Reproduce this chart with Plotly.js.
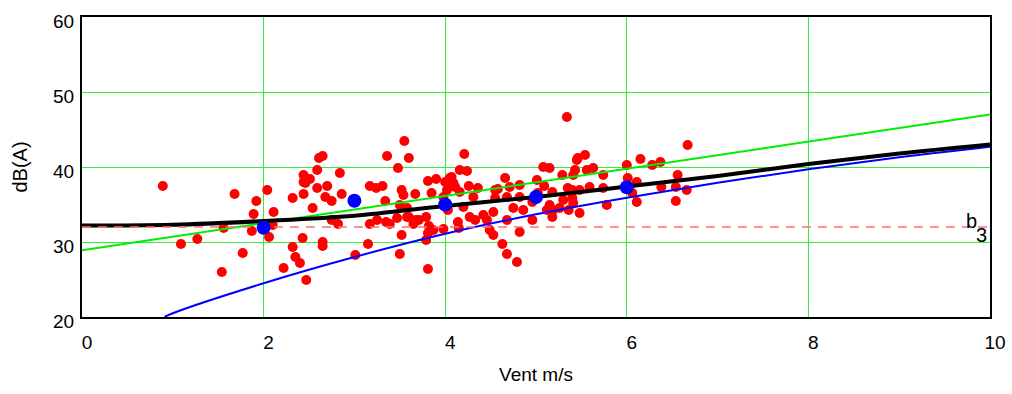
<!DOCTYPE html>
<html>
<head>
<meta charset="utf-8">
<script src="https://cdn.plot.ly/plotly-3.0.1.min.js"></script>
<style>html,body{margin:0;padding:0;background:#fff;}#chart{width:1012px;height:394px;}</style>
</head>
<body>
<div id="chart"></div>
<script>
// Measured points (wind speed m/s, level dB(A))
const measX = [0.89,1.09,1.27,1.54,1.56,1.68,1.77,1.87,1.89,1.92,2.04,2.06,2.10,2.11,2.22,2.32,2.32,2.35,2.40,2.43,
  2.44,2.44,2.44,2.47,2.46,2.51,2.54,2.59,2.59,2.61,2.65,2.65,2.65,2.68,2.70,2.75,2.75,2.82,2.84,2.86,
  3.01,3.15,3.17,3.17,3.24,3.25,3.31,3.34,3.35,3.36,3.39,3.47,3.48,3.50,3.50,3.52,3.52,3.54,3.55,3.58,
  3.58,3.60,3.60,3.65,3.67,3.68,3.71,3.79,3.79,3.81,3.81,3.81,3.82,3.85,3.87,3.90,3.98,3.98,4.00,4.02,
  4.03,4.05,4.05,4.07,4.09,4.11,4.14,4.15,4.16,4.16,4.20,4.21,4.24,4.26,4.27,4.31,4.33,4.36,4.42,4.46,
  4.49,4.53,4.53,4.55,4.55,4.58,4.63,4.66,4.68,4.68,4.68,4.71,4.75,4.79,4.82,4.82,4.82,4.86,4.96,4.96,
  5.01,5.02,5.08,5.09,5.12,5.15,5.15,5.18,5.18,5.19,5.26,5.29,5.30,5.34,5.35,5.36,5.40,5.40,5.41,5.41,
  5.43,5.45,5.46,5.48,5.48,5.54,5.56,5.59,5.63,5.74,5.74,5.78,6.00,6.01,6.06,6.11,6.11,6.15,6.28,6.37,
  6.38,6.54,6.54,6.56,6.66,6.67];
const measY = [37.47,29.73,30.4,26.0,31.87,36.4,28.53,31.47,33.73,35.47,36.93,30.67,32.27,34.0,26.53,35.87,29.33,28.0,27.2,30.53,
  38.93,38.0,36.4,24.93,37.87,38.4,34.53,39.6,37.2,41.2,41.47,30.0,29.47,36.0,37.47,35.47,32.93,32.4,39.2,36.4,
  28.27,29.73,37.47,32.4,37.2,32.93,37.47,35.47,32.67,41.47,32.4,33.2,39.87,34.93,28.4,36.93,30.93,36.27,43.47,34.53,
  33.33,41.2,33.33,32.4,36.4,32.93,32.93,33.33,30.27,38.13,31.2,26.4,32.13,36.53,31.6,38.4,36.0,31.73,38.0,36.93,
  34.27,38.53,37.87,38.67,37.87,37.33,32.67,31.87,39.6,36.67,34.67,41.73,39.47,37.47,33.33,36.0,32.93,37.2,33.6,32.93,
  31.6,34.0,30.93,36.93,35.87,37.07,29.73,38.53,36.0,32.93,28.4,37.33,34.53,27.33,37.6,36.0,31.33,34.27,35.33,32.93,
  38.27,36.53,40.0,37.47,34.27,39.87,34.93,36.67,33.33,34.27,34.53,38.93,35.6,46.67,37.2,34.27,36.93,35.87,38.93,35.2,
  39.6,40.93,41.2,36.93,33.87,41.6,39.6,37.33,39.87,38.93,37.2,34.93,40.27,38.53,36.53,38.0,35.33,41.07,40.27,40.67,
  37.33,37.33,35.47,38.93,36.93,42.93];

// Bin averages
const binX = [2, 3, 4, 5, 6];
const binY = [31.9, 35.5, 35.0, 36.0, 37.3];

// Linear regression line
const regX = [0, 10];
const regY = [28.9, 47.0];

// Turbine noise curve
const turbX = [0.91, 1, 2, 3, 4, 5, 6, 7, 8, 9, 10];
const turbY = [20.0, 20.5, 24.5, 28.0, 31.1, 33.7, 35.9, 37.9, 39.7, 41.3, 42.7];

// Total (turbine + background) curve
const totX = [0, 1, 2, 3, 4, 5, 6, 7, 8, 9, 10];
const totY = [32.2, 32.3, 32.8, 33.5, 34.8, 36.0, 37.4, 38.8, 40.4, 41.8, 43.0];

// Background level b3
const bgX = [0, 10];
const bgY = [32, 32];
const bgLabelMain = 'b';
const bgLabelSub = '3';

const xTicks = [0, 2, 4, 6, 8, 10];
const yTicks = [20, 30, 40, 50, 60];

const font = 'Liberation Sans, Arial, sans-serif';

const traces = [
  {x: measX, y: measY, type: 'scatter', mode: 'markers', marker: {color: '#ff0000', size: 10}, hoverinfo: 'skip'},
  {x: regX, y: regY, type: 'scatter', mode: 'lines', line: {color: '#00ee00', width: 2}},
  {x: turbX, y: turbY, type: 'scatter', mode: 'lines', line: {color: '#0000ff', width: 2, shape: 'spline'}},
  {x: totX, y: totY, type: 'scatter', mode: 'lines', line: {color: '#000000', width: 4, shape: 'spline'}},
  {x: bgX, y: bgY, type: 'scatter', mode: 'lines', line: {color: '#ff7070', width: 1.5, dash: '9px,7px'}},
  {x: binX, y: binY, type: 'scatter', mode: 'markers', marker: {color: '#0000ff', size: 14}}
];

const layout = {
  width: 1012, height: 394,
  margin: {l: 82, r: 22, t: 17, b: 77},
  showlegend: false,
  paper_bgcolor: '#ffffff', plot_bgcolor: '#ffffff',
  font: {family: font, color: '#000000', size: 19},
  xaxis: {
    range: [0, 10], tickvals: xTicks, ticktext: xTicks.map(String),
    showgrid: true, gridcolor: '#33ee33', gridwidth: 1,
    zeroline: false, showline: true, linecolor: '#000000', linewidth: 2, mirror: true,
    ticks: '', ticklabelstandoff: 7, ticklabelshift: 5,
    tickfont: {family: font, size: 19},
    title: {text: 'Vent m/s', font: {family: font, size: 19}, standoff: 16}
  },
  yaxis: {
    range: [20, 60], tickvals: yTicks, ticktext: yTicks.map(String),
    showgrid: true, gridcolor: '#33ee33', gridwidth: 1,
    zeroline: false, showline: true, linecolor: '#000000', linewidth: 2, mirror: true,
    ticks: '', ticklabelstandoff: 2, ticklabelshift: 4,
    tickfont: {family: font, size: 19},
    title: {text: 'dB(A)', font: {family: font, size: 20}, standoff: 20}
  },
  annotations: [
    {x: 10, y: 32, xref: 'x', yref: 'y', text: bgLabelMain, showarrow: false,
     xanchor: 'right', yanchor: 'bottom', xshift: -11, yshift: -7,
     font: {family: font, size: 20, color: '#000000'}},
    {x: 10, y: 32, xref: 'x', yref: 'y', text: bgLabelSub, showarrow: false,
     xanchor: 'right', yanchor: 'top', xshift: -1, yshift: 5,
     font: {family: font, size: 20, color: '#000000'}}
  ]
};

Plotly.newPlot('chart', traces, layout, {displayModeBar: false, staticPlot: true});
</script>
</body>
</html>
